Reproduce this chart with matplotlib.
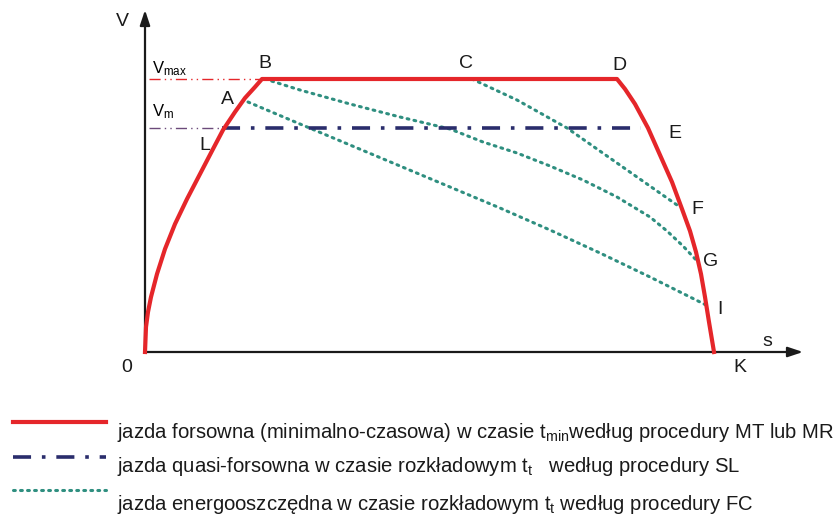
import matplotlib
matplotlib.use("Agg")
import matplotlib.pyplot as plt
from matplotlib.lines import Line2D

plt.rcParams["font.family"] = ["Liberation Sans", "DejaVu Sans"]
plt.rcParams["mathtext.fontset"] = "custom"
plt.rcParams["mathtext.rm"] = "Liberation Sans"
plt.rcParams["mathtext.it"] = "Liberation Sans"

# speed profile, distance s vs speed V (arbitrary units)
V_MAX = 273
V_M = 224

# forced run (red): acceleration 0 -> B, cruise B -> D, braking D -> K
accel_s = [0, 1, 3, 6, 12, 20, 30, 42, 55, 68, 78, 90, 100, 110, 117]
accel_v = [0, 25, 40, 55, 78, 103, 128, 153, 178, 203, 222, 240, 254, 265, 273]
cruise_s = [117, 472]
cruise_v = [273, 273]
brake_s = [472, 480, 490, 503, 515, 527, 537, 545, 551, 556, 560, 564, 569]
brake_v = [273, 263, 248, 224, 197, 170, 143, 121, 100, 78, 55, 30, 0]

# quasi-forced run (navy dash-dot) at V_m from L to E
quasi_s = [77, 496]
quasi_v = [224, 224]

# coasting runs (teal dotted)
coast_cf_s = [327, 372, 422, 472, 532]
coast_cf_v = [273, 252, 224, 189, 147]
coast_bg_s = [120, 155, 205, 255, 305, 338, 372, 405, 438, 472, 505, 522, 538, 553]
coast_bg_v = [273, 262, 248, 235, 223, 210, 199, 186, 172, 155, 135, 121, 106, 90]
coast_ai_s = [103, 155, 205, 255, 305, 355, 405, 455, 505, 561]
coast_ai_v = [250, 228, 207, 186, 165, 144, 122, 99, 75, 47]

# point labels
point_names = ["B", "C", "D", "A", "L", "E", "F", "G", "I", "K", "0"]
point_s = [120, 321, 474, 82, 60, 530, 552, 566, 575, 595, -18]
point_v = [289, 289, 287, 253, 207, 219, 142, 90, 42, -16, -16]

RED = "#e5262a"
NAVY = "#2a2d6c"
TEAL = "#2f8f80"

fig = plt.figure(figsize=(8.38, 5.15), dpi=100)
ax = fig.add_axes([0, 0, 1, 1])
ax.set_xlim(-145, 693)
ax.set_ylim(-163, 352)
ax.axis("off")

# axes with arrows
ax.annotate("", xy=(658, 0), xytext=(0, 0),
            arrowprops=dict(arrowstyle="-|>,head_length=0.9,head_width=0.3",
                            color="#1a1a1a", lw=1.6, shrinkA=0, shrinkB=0))
ax.annotate("", xy=(0, 342), xytext=(0, 0),
            arrowprops=dict(arrowstyle="-|>,head_length=0.9,head_width=0.3",
                            color="#1a1a1a", lw=1.6, shrinkA=0, shrinkB=0))

# thin reference lines for Vmax and Vm
ax.plot([4, cruise_s[0]], [V_MAX, V_MAX], color=RED, lw=1.0, ls=(0, (8, 3, 1, 3, 1, 3)))
ax.plot([4, quasi_s[0]], [V_M, V_M], color="#6b4a7a", lw=1.0, ls=(0, (8, 3, 1, 3, 1, 3)))

# coasting runs
dot_style = dict(color=TEAL, lw=2.2, ls=(0, (0.6, 1.7)), dash_capstyle="round")
ax.plot(coast_cf_s, coast_cf_v, **dot_style)
ax.plot(coast_bg_s, coast_bg_v, **dot_style)
ax.plot(coast_ai_s, coast_ai_v, **dot_style)

# quasi-forced run
ax.plot(quasi_s, quasi_v, color=NAVY, lw=2.6, ls=(0, (5, 3, 1, 3)))

# forced run
ax.plot(accel_s + cruise_s[1:] + brake_s[1:], accel_v + cruise_v[1:] + brake_v[1:],
        color=RED, lw=3.0, solid_joinstyle="round", zorder=5)

for name, s, v in zip(point_names, point_s, point_v):
    ax.text(s, v, name, fontsize=14, ha="center", va="center", color="#1a1a1a")

ax.text(-23, 330, "V", fontsize=14, ha="center", va="center", color="#1a1a1a")
ax.text(622, 11, "s", fontsize=14, ha="center", va="center", color="#1a1a1a")
ax.text(7, 283, r"V$_{\mathregular{max}}$", fontsize=12, ha="left", va="center")
ax.text(7, 240, r"V$_{\mathregular{m}}$", fontsize=12, ha="left", va="center")

# legend drawn below the chart, in figure pixels
W, H = 838, 515


def px(x, y):
    return x / W, 1 - y / H


legend_items = [
    (dict(color=RED, lw=3.0), 422, 433,
     r"jazda forsowna (minimalno-czasowa) w czasie t$_{\mathregular{min}}$według procedury MT lub MR"),
    (dict(color=NAVY, lw=2.6, ls=(0, (5, 3, 1, 3))), 457, 467,
     r"jazda quasi-forsowna w czasie rozkładowym t$_{\mathregular{t}}$   według procedury SL"),
    (dict(color=TEAL, lw=2.2, ls=(0, (0.6, 1.7)), dash_capstyle="round"), 490, 505,
     r"jazda energooszczędna w czasie rozkładowym t$_{\mathregular{t}}$ według procedury FC"),
]
for style, ly, ty, label in legend_items:
    x0, y0 = px(13, ly)
    x1, _ = px(106, ly)
    fig.add_artist(Line2D([x0, x1], [y0, y0], transform=fig.transFigure, **style))
    tx, tyf = px(117, ty)
    fig.text(tx, tyf, label, fontsize=14.6, ha="left", va="center", color="#1a1a1a")

fig.savefig("out.png", dpi=100, facecolor="white")
